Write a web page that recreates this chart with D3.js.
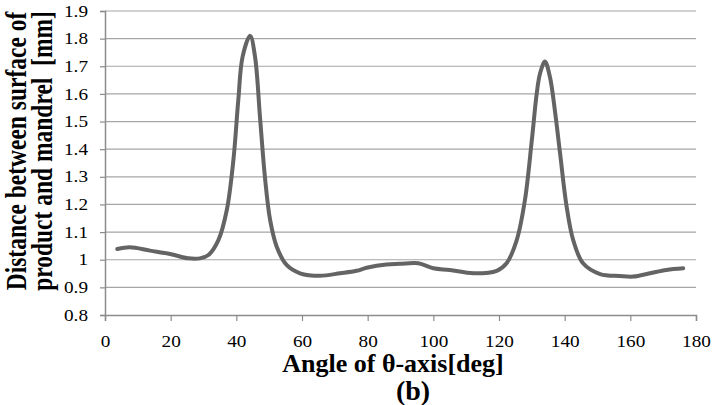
<!DOCTYPE html>
<html><head><meta charset="utf-8">
<script src="https://cdn.jsdelivr.net/npm/d3@7"></script>
<style>body{margin:0;background:#fff}svg{display:block}svg text{font-family:"Liberation Serif","Times New Roman",Times,serif}</style>
</head><body><svg id="c" width="712" height="405"></svg>
<script>
const angles = [3.75,7.6,13.7,19.8,25.4,28.9,31.5,34.5,37.1,39.1,40.6,41.9,44.2,45.7,47.2,48.7,50.3,52.3,55.3,59.4,65.5,71.6,76.6,79.7,85.7,89.8,95.4,100,105,112.2,119.3,122.3,125.4,127.9,130,131.5,132.5,134,135.5,137,138.6,140.6,142.6,145.6,150.8,156.8,160.9,166,171,176.1];
const distances = [1.039,1.045,1.033,1.021,1.005,1.005,1.017,1.07,1.18,1.36,1.578,1.734,1.81,1.734,1.517,1.30,1.143,1.047,0.981,0.951,0.942,0.951,0.96,0.971,0.983,0.985,0.987,0.969,0.963,0.951,0.96,0.987,1.071,1.216,1.433,1.602,1.674,1.717,1.662,1.542,1.385,1.192,1.071,0.987,0.948,0.941,0.939,0.951,0.963,0.969];
const xTicks = [0,20,40,60,80,100,120,140,160,180];
const yTicks = [0.8,0.9,1,1.1,1.2,1.3,1.4,1.5,1.6,1.7,1.8,1.9];
const xTitle = "Angle of θ-axis[deg]";
const yTitle = ["Distance between surface of", "product and mandrel  [mm]"];
const caption = "(b)";

const svg = d3.select("#c");
const x = d3.scaleLinear().domain([0,180]).range([105,696]);
const y = d3.scaleLinear().domain([0.8,1.9]).range([315,11]);

svg.append("g").selectAll("line").data(yTicks.slice(1)).join("line")
  .attr("x1",x(0)).attr("x2",x(180)).attr("y1",d=>y(d)).attr("y2",d=>y(d))
  .attr("stroke","#a6a6a6").attr("stroke-width",1.2);

const xa = svg.append("g").attr("transform",`translate(0,${y(0.8)})`)
  .call(d3.axisBottom(x).tickValues(xTicks).tickSize(6).tickFormat(d3.format("d")));
const ya = svg.append("g").attr("transform",`translate(${x(0)},0)`)
  .call(d3.axisLeft(y).tickValues(yTicks).tickSize(5).tickFormat(d=>d===1?"1":d3.format(".1f")(d)));
[xa,ya].forEach(a=>{
  a.attr("font-family",null).attr("font-size",null);
  a.select(".domain").attr("stroke","#8c8c8c").attr("stroke-width",1.5);
  a.selectAll(".tick line").attr("stroke","#8c8c8c").attr("stroke-width",1.2);
  a.selectAll("text").attr("font-size",16).attr("fill","#000");
});
xa.selectAll(".tick text").attr("y",0).attr("dy",0).attr("transform","translate(0,32) scale(1.2,1)");
ya.selectAll(".tick text").attr("x",0).attr("transform","translate(-17,0) scale(1.2,1)");

const line = d3.line().x((d,i)=>x(angles[i])).y(d=>y(d)).curve(d3.curveCatmullRom.alpha(0.5));
svg.append("path").datum(distances).attr("d",line)
  .attr("fill","none").attr("stroke","#646464").attr("stroke-width",4).attr("stroke-linejoin","round").attr("stroke-linecap","round");

svg.append("text").attr("x",393).attr("y",372).attr("text-anchor","middle")
  .attr("font-weight","bold").attr("font-size",26).text(xTitle);
svg.append("text").attr("x",413).attr("y",400).attr("text-anchor","middle")
  .attr("font-weight","bold").attr("font-size",28).text(caption);
const yb = [26,52];
yTitle.forEach((t,i)=>{
  svg.append("text").attr("transform",`translate(${yb[i]},151) scale(1.22,1) rotate(-90)`)
    .attr("text-anchor","middle").attr("font-weight","bold").attr("font-size",23.5)
    .style("white-space","pre").text(t);
});
</script></body></html>
